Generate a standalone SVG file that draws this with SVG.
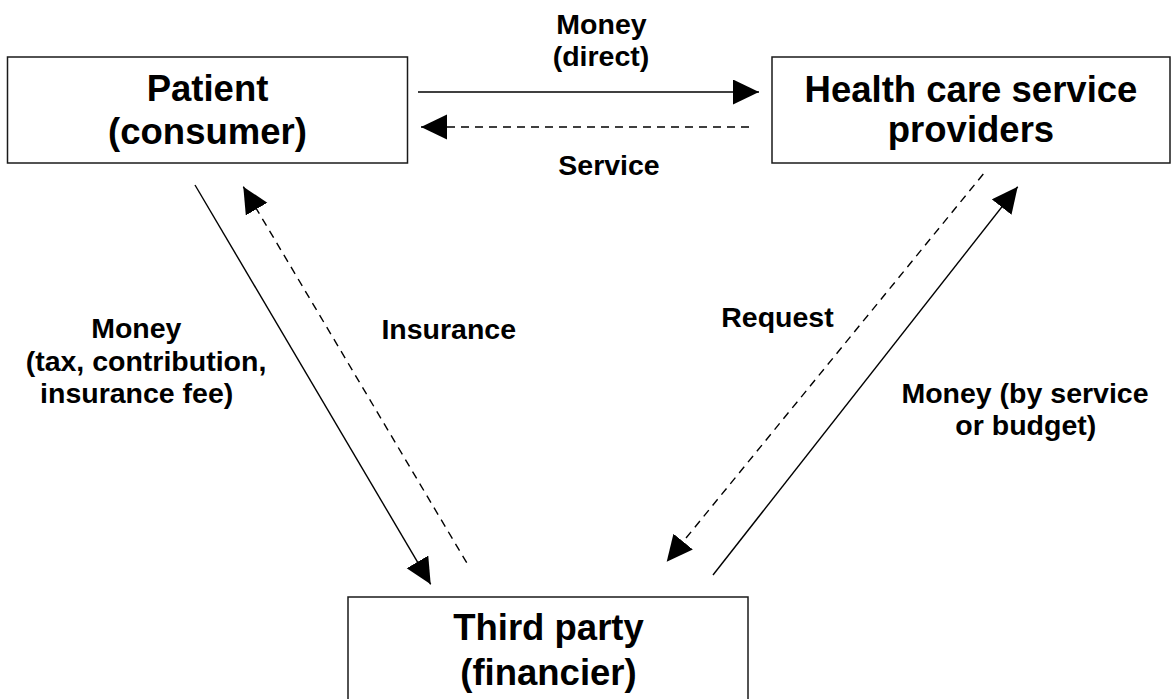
<svg xmlns="http://www.w3.org/2000/svg" width="1172" height="699" viewBox="0 0 1172 699">
  <style>
    .box { fill: #ffffff; stroke: #1a1a1a; stroke-width: 1.5; }
    .title { font-family: "Liberation Sans", Arial, sans-serif; font-weight: bold; font-size: 36.5px; fill: #000; text-anchor: middle; }
    .label { font-family: "Liberation Sans", Arial, sans-serif; font-weight: bold; font-size: 28.5px; fill: #000; text-anchor: middle; }
    .flow { fill: none; stroke: #000; stroke-width: 1.4; }
    .solid { marker-end: url(#head); }
    .dashed { stroke-dasharray: 8 6; marker-end: url(#head); }
  </style>
  <defs>
    <marker id="head" markerUnits="userSpaceOnUse" markerWidth="27" markerHeight="26" refX="26" refY="12.5" orient="auto">
      <path d="M0,0 L26,12.5 L0,25 Z" fill="#000"/>
    </marker>
  </defs>

  <rect width="1172" height="699" fill="#ffffff"/>

  <!-- connectors -->
  <g id="connectors">
    <line class="flow solid" x1="418" y1="92" x2="759" y2="92"/>
    <line class="flow dashed" x1="749" y1="127" x2="421" y2="127"/>
    <line class="flow solid" x1="195" y1="185" x2="430.7" y2="584.3"/>
    <line class="flow dashed" x1="466.7" y1="562.7" x2="243.3" y2="186.7"/>
    <line class="flow dashed" x1="983.3" y1="174" x2="666.7" y2="561.7"/>
    <line class="flow solid" x1="713" y1="575" x2="1017.7" y2="186.7"/>
  </g>

  <!-- connector labels -->
  <g id="labels">
    <text class="label" x="601.5" y="34.3">Money</text>
    <text class="label" x="601" y="66">(direct)</text>
    <text class="label" x="609" y="175">Service</text>
    <text class="label" x="136.3" y="337.7">Money</text>
    <text class="label" x="146" y="370.7">(tax, contribution,</text>
    <text class="label" x="136.7" y="403">insurance fee)</text>
    <text class="label" x="448.7" y="339">Insurance</text>
    <text class="label" x="777.5" y="327">Request</text>
    <text class="label" x="1025" y="403.3">Money (by service</text>
    <text class="label" x="1025.8" y="435">or budget)</text>
  </g>

  <!-- nodes -->
  <g id="patient">
    <rect class="box" x="7.5" y="57" width="400" height="106"/>
    <text class="title" x="207.5" y="100.5">Patient</text>
    <text class="title" x="207.5" y="144">(consumer)</text>
  </g>
  <g id="providers">
    <rect class="box" x="772" y="57" width="398" height="106"/>
    <text class="title" x="971" y="102">Health care service</text>
    <text class="title" x="971" y="142">providers</text>
  </g>
  <g id="third-party">
    <rect class="box" x="348" y="597" width="400" height="110"/>
    <text class="title" x="548.5" y="640">Third party</text>
    <text class="title" x="548.5" y="685">(financier)</text>
  </g>
</svg>
